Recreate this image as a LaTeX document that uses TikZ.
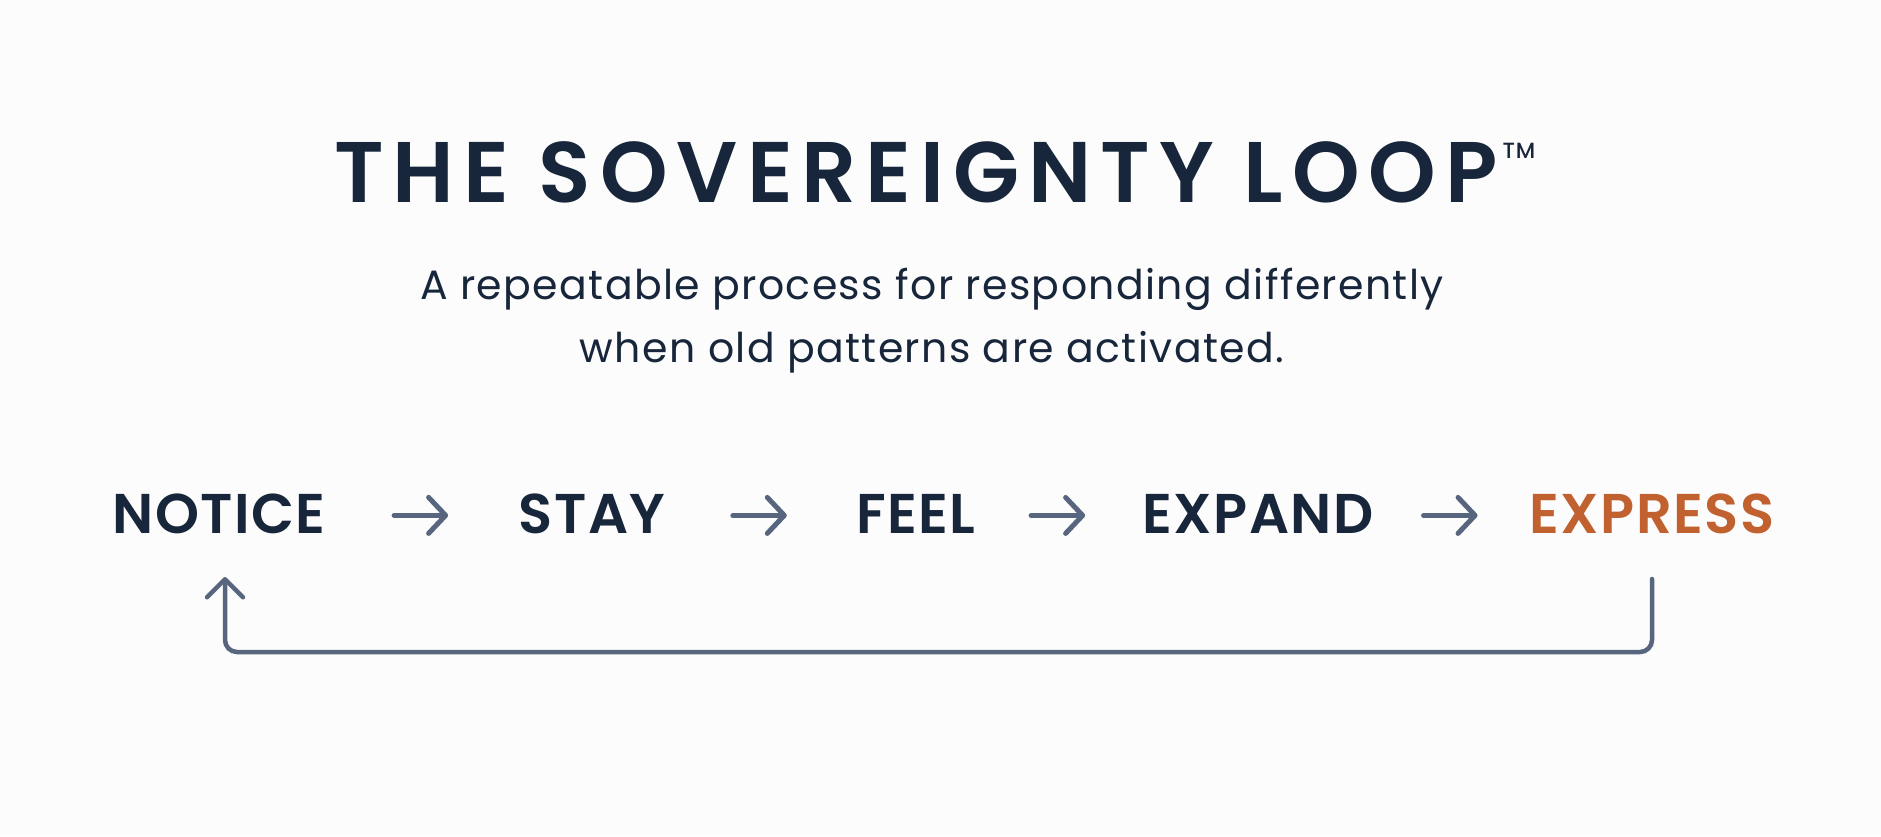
\documentclass[tikz,border=0pt]{standalone}
\usepackage{fontspec}
\setmainfont{Poppins}
\newfontfamily\titlefont{Poppins SemiBold}[LetterSpace=10.5]
\newfontfamily\tmfont{Poppins Medium}[LetterSpace=4]
\newfontfamily\stepfont{Poppins SemiBold}[LetterSpace=2.5]
\newfontfamily\subfont{Poppins}[LetterSpace=3.4]
\usetikzlibrary{arrows.meta,calc}
\definecolor{navy}{HTML}{17263A}
\definecolor{slate}{HTML}{57667E}
\definecolor{rust}{HTML}{C0612F}
\definecolor{bg}{HTML}{FCFCFC}
\tikzset{
  steplabel/.style={inner sep=0pt, anchor=base, text=navy, font=\stepfont\fontsize{56}{56}\selectfont},
  flowarrow/.style={draw=slate, line width=5pt, line cap=round,
    -{Straight Barb[length=17pt,width=36pt,round]}},
  looparrow/.style={draw=slate, line width=4.5pt, line cap=round, rounded corners=12pt,
    -{Straight Barb[length=18pt,width=36pt,round]}}
}
\begin{document}
\begin{tikzpicture}[x=1pt,y=-1pt]
\fill[bg] (0,0) rectangle (1881,836);
\useasboundingbox (0,0) rectangle (1881,836);

\node[inner sep=0pt, anchor=base, text=navy, font=\titlefont\fontsize{86}{86}\selectfont] (title) at (916,202)
  {THE SOVEREIGNTY LOOP\rlap{\hspace{5pt}\raisebox{44pt}{\tmfont\fontsize{22}{22}\selectfont TM}}};

\node[inner sep=0pt, anchor=base, text=navy, align=center,
  font=\subfont\fontsize{41}{63}\selectfont] (sub) at (932,362)
  {A repeatable process for responding differently\\when old patterns are activated.};

\node[steplabel] (notice) at (219,533) {NOTICE};
\node[steplabel] (stay) at (592,533) {STAY};
\node[steplabel] (feel) at (916,533) {FEEL};
\node[steplabel] (expand) at (1258,533) {EXPAND};
\node[steplabel, text=rust] (express) at (1652,533) {EXPRESS};

\draw[flowarrow] ($($(notice.east)!0.5!(stay.west)$)+(-28,2)$) -- ($($(notice.east)!0.5!(stay.west)$)+(26,2)$);
\draw[flowarrow] ($($(stay.east)!0.5!(feel.west)$)+(-28,2)$) -- ($($(stay.east)!0.5!(feel.west)$)+(26,2)$);
\draw[flowarrow] ($($(feel.east)!0.5!(expand.west)$)+(-28,2)$) -- ($($(feel.east)!0.5!(expand.west)$)+(26,2)$);
\draw[flowarrow] ($($(expand.east)!0.5!(express.west)$)+(-28,2)$) -- ($($(expand.east)!0.5!(express.west)$)+(26,2)$);

\coordinate (loopstart) at ($(express.base)+(0,46)$);
\coordinate (loopend) at ($(notice.base)+(6,44)$);
\draw[looparrow] (loopstart) -- ++(0,73) -| (loopend);
\end{tikzpicture}
\end{document}
